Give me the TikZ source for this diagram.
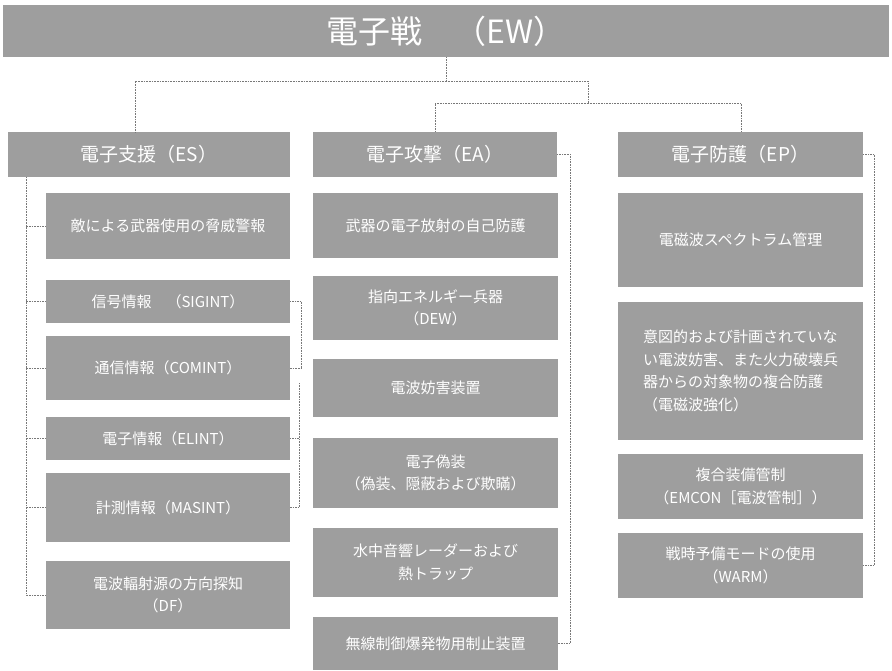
\documentclass[tikz,border=0pt]{standalone}
\usepackage{fontspec}
\setmainfont{Noto Sans CJK JP}
\definecolor{boxgray}{RGB}{158,158,158}
\definecolor{linegray}{RGB}{120,120,120}
\begin{document}
\begin{tikzpicture}[x=1pt,y=-1pt,
  box/.style={draw=none,fill=boxgray,text=white,inner sep=2pt,align=center,
    font=\fontsize{15}{22.5}\selectfont},
  lvl/.style={box,font=\fontsize{19}{24}\selectfont},
  conn/.style={draw=linegray,line width=0.9pt,dash pattern=on 1pt off 0.6pt}]
\useasboundingbox (0,0) rectangle (892,671);
% title
\node[box,font=\fontsize{32}{36}\selectfont,minimum width=886pt,minimum height=52pt] (ew) at (446,31) {電子戦　（EW）};
% level 2
\node[lvl,minimum width=282pt,minimum height=45pt] (es) at (149,154.5) {電子支援（ES）};
\node[lvl,minimum width=244pt,minimum height=45pt] (ea) at (435,154.5) {電子攻撃（EA）};
\node[lvl,minimum width=245pt,minimum height=45pt] (ep) at (740.5,154.5) {電子防護（EP）};
% ES children
\node[box,minimum width=244pt,minimum height=66pt] (c1) at (168,226) {敵による武器使用の脅威警報};
\node[box,minimum width=244pt,minimum height=43pt] (c2) at (168,301.5) {信号情報　（SIGINT）};
\node[box,minimum width=244pt,minimum height=64pt] (c3) at (168,368) {通信情報（COMINT）};
\node[box,minimum width=244pt,minimum height=43pt] (c4) at (168,438.5) {電子情報（ELINT）};
\node[box,minimum width=244pt,minimum height=69pt] (c5) at (168,507.5) {計測情報（MASINT）};
\node[box,minimum width=244pt,minimum height=68pt] (c6) at (168,595) {電波輻射源の方向探知\\（DF）};
% EA children
\node[box,minimum width=245pt,minimum height=65pt] (a1) at (435.5,225.5) {武器の電子放射の自己防護};
\node[box,minimum width=245pt,minimum height=64pt] (a2) at (435.5,308) {指向エネルギー兵器\\（DEW）};
\node[box,minimum width=245pt,minimum height=58pt] (a3) at (435.5,388) {電波妨害装置};
\node[box,minimum width=245pt,minimum height=70pt] (a4) at (435.5,473) {電子偽装\\（偽装、隠蔽および欺瞞）};
\node[box,minimum width=245pt,minimum height=69pt] (a5) at (435.5,562.5) {水中音響レーダーおよび\\熱トラップ};
\node[box,minimum width=245pt,minimum height=53pt] (a6) at (435.5,643.5) {無線制御爆発物用制止装置};
% EP children
\node[box,minimum width=245pt,minimum height=94pt] (p1) at (740.5,240) {電磁波スペクトラム管理};
\node[box,align=left,minimum width=245pt,minimum height=138pt] (p2) at (740.5,371) {意図的および計画されていな\\い電波妨害、また火力破壊兵\\器からの対象物の複合防護\\（電磁波強化）};
\node[box,minimum width=245pt,minimum height=65pt] (p3) at (740.5,486.5) {複合装備管制\\（EMCON［電波管制］）};
\node[box,minimum width=245pt,minimum height=65pt] (p4) at (740.5,565.5) {戦時予備モードの使用\\（WARM）};
% coordinates
\coordinate (j1) at (446,81);
\coordinate (j2) at (588,103);
\coordinate (esin) at (135,132);
\coordinate (eain) at (435,132);
\coordinate (epin) at (741,132);
\coordinate (esl) at (26,177);
\coordinate (fr) at (299,383);
% connectors
\draw[conn] (ew.south) -- (j1) -| (esin);
\draw[conn] (j1) -| (j2);
\draw[conn] (j2) -| (eain);
\draw[conn] (j2) -| (epin);
\draw[conn] (esl) |- (c6.west);
\foreach \c in {c1,c2,c3,c4,c5}{\draw[conn] (\c.west) -- (\c.west -| esl);}
\draw[conn] (c2.east) -- ++(11,0) |- (c3.east);
\draw[conn] (fr) |- (c5.east);
\draw[conn] (c4.east) -- (c4.east -| fr);
\draw[conn] (ea.east) -- ++(13,0) |- (a6.east);
\draw[conn] (ep.east) -- ++(11,0) |- (p4.east);
\end{tikzpicture}
\end{document}
